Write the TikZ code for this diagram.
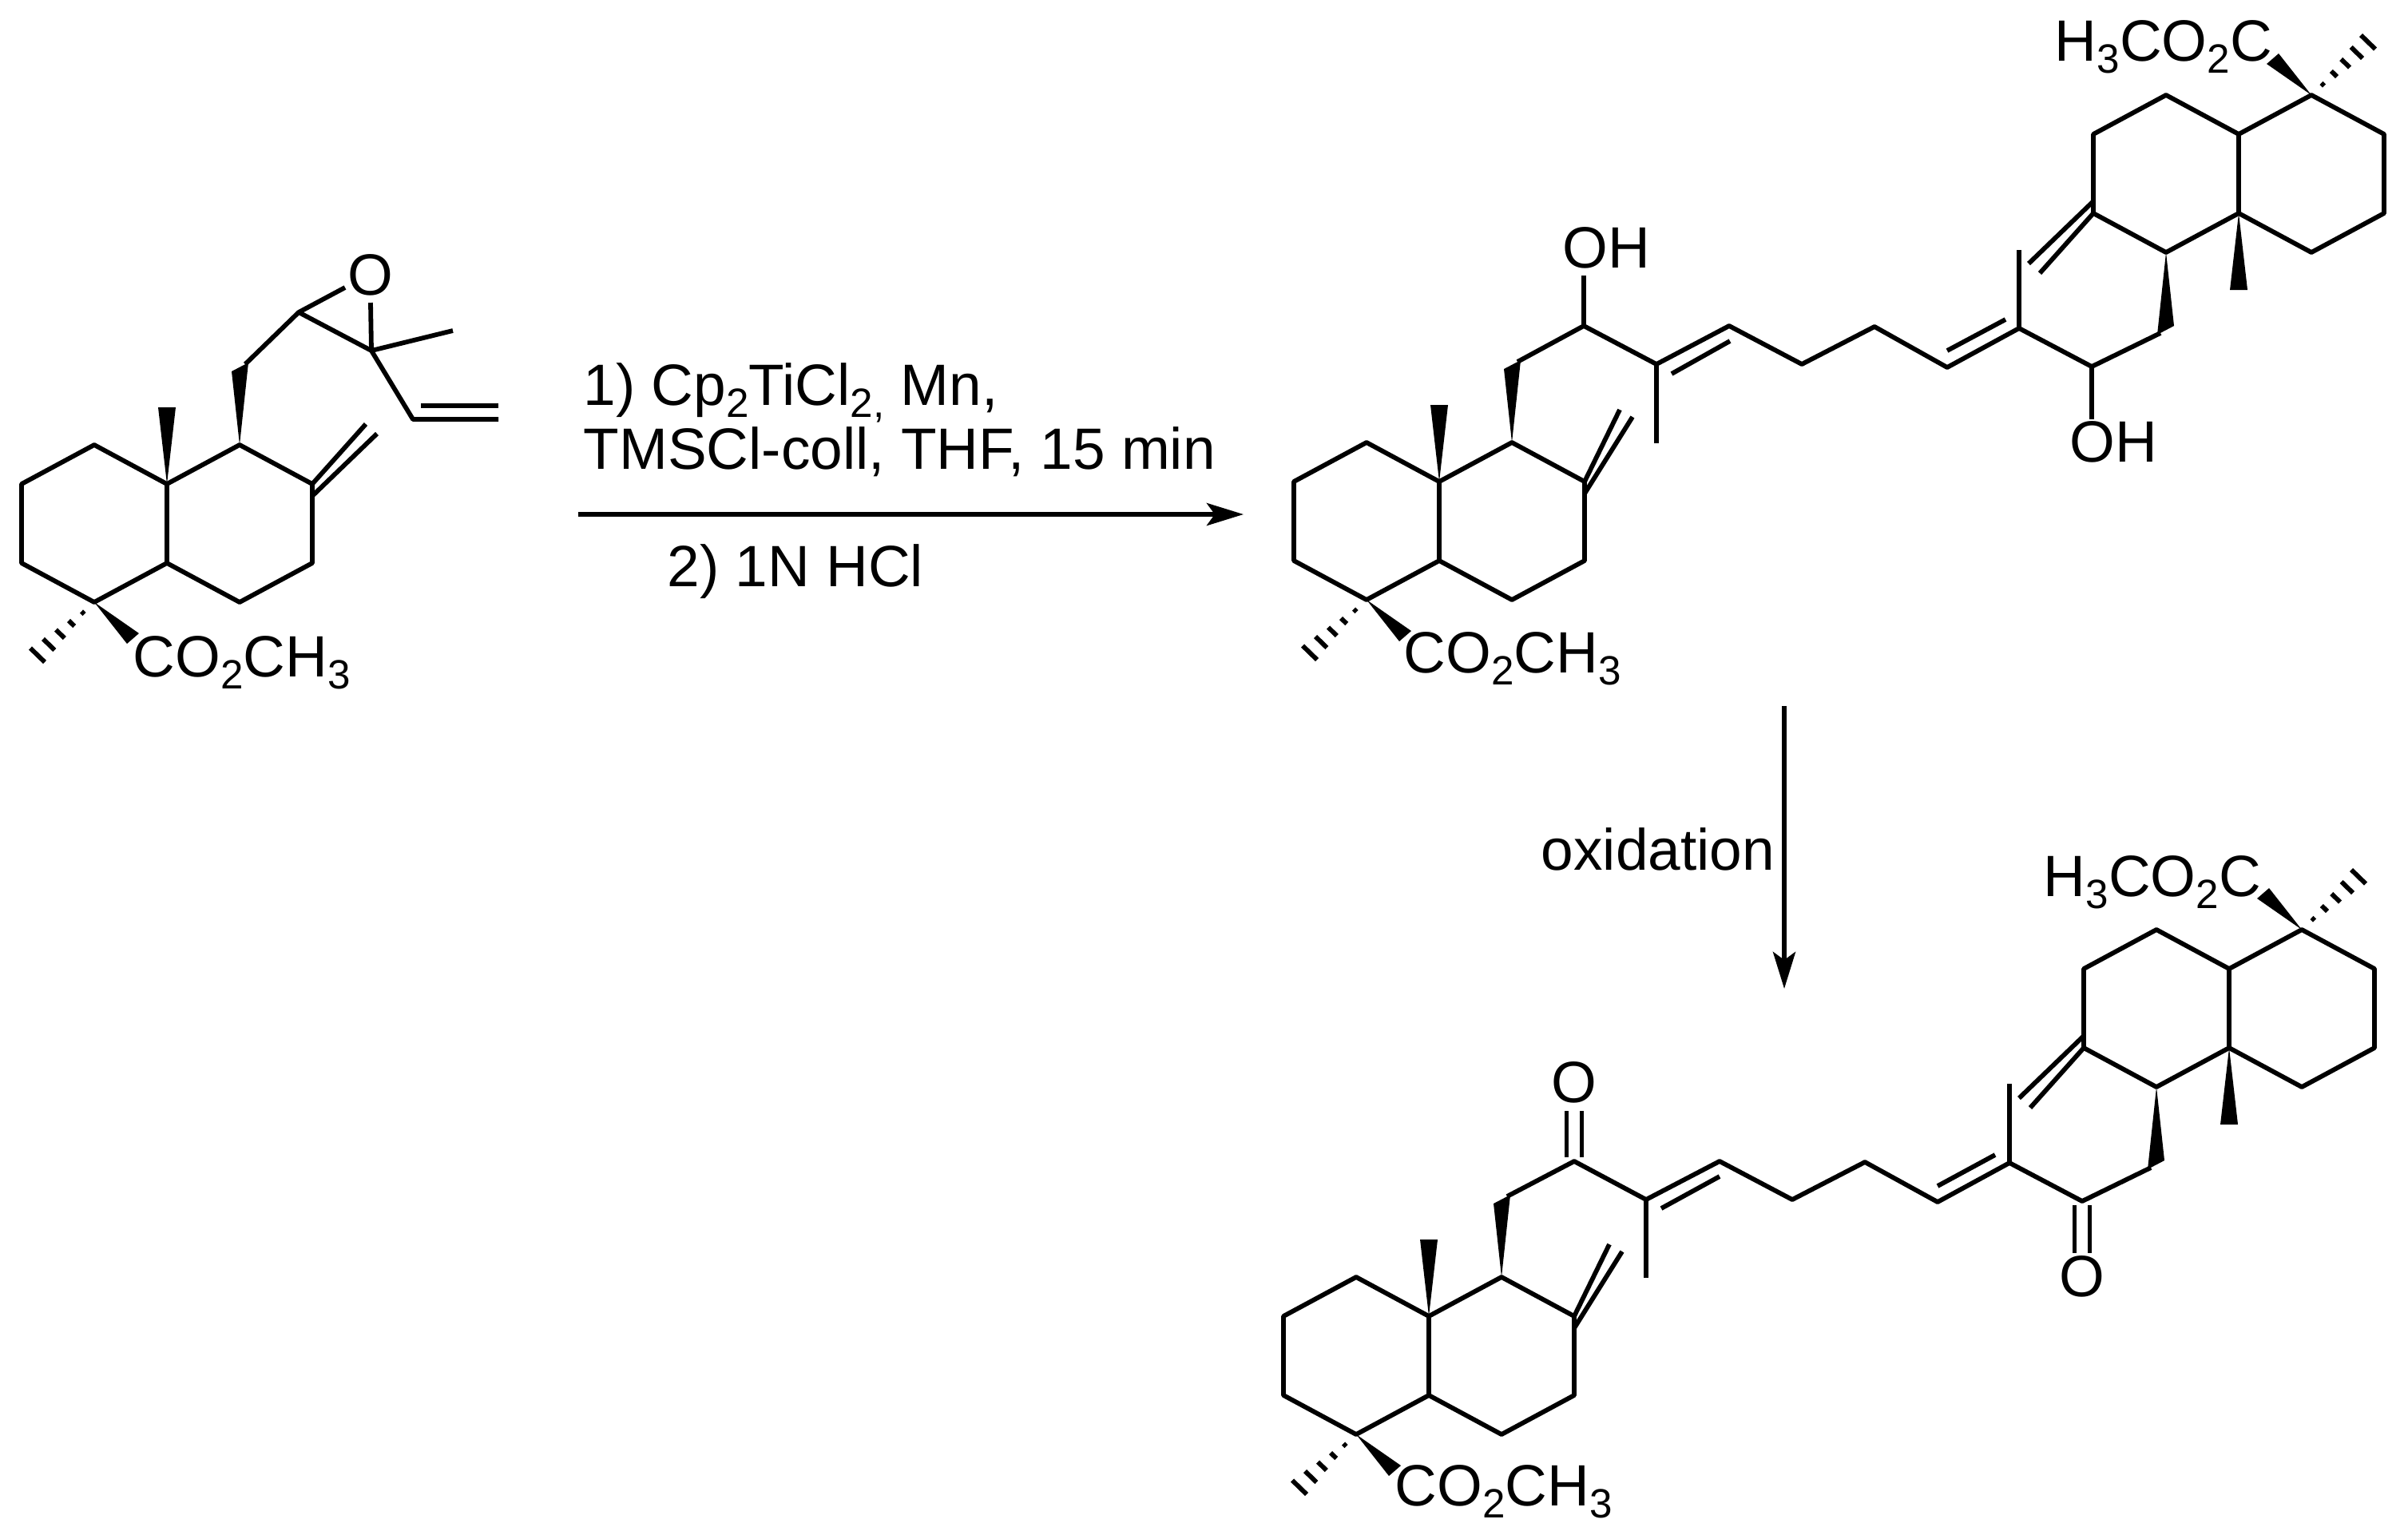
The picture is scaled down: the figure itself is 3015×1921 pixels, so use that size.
\documentclass[tikz,border=0pt]{standalone}
\usepackage{fontspec}
\setmainfont{Liberation Sans}
\usetikzlibrary{arrows.meta}
\newcommand{\chsub}[1]{\raisebox{-0.21em}{\fontsize{12.8}{14}\selectfont #1}}
\tikzset{
x=0.25pt, y=-0.25pt, % one unit is one pixel of the picture
bond/.style={line width=1.45pt, line join=round},
hashbond/.style={line width=1.45pt},
wedge/.style={fill=black},
rxn/.style={line width=1.5pt, -{Stealth[length=11.5pt,width=7pt,inset=2.5pt]}},
chem/.style={font=\fontsize{18.25}{22}\selectfont, inner sep=0pt, anchor=base west},
pics/decalin/.style n args={4}{code={
    \coordinate (-a) at (-182,0); \coordinate (-b) at (-91,-49);
    \coordinate (-c) at (0,0); \coordinate (-d) at (91,-49);
    \coordinate (-e) at (182,0); \coordinate (-f) at (182,99);
    \coordinate (-g) at (91,148); \coordinate (-h) at (0,99);
    \coordinate (-i) at (-91,148); \coordinate (-j) at (-182,99);
    \coordinate (-k) at (98,-150); % end of the wedge on the ring
    \draw[bond] (-a) -- (-b) -- (-c) -- (-d) -- (-e) -- (-f) -- (-g) -- (-h) -- (-i) -- (-j) -- cycle;
    \draw[bond] (-c) -- (-h);
    \draw[bond] (-e) -- (#1,#2);
    \draw[bond] (182,15) -- (#3,#4);
    \fill[wedge] (-c) -- (-11,-96) -- (11,-96) -- cycle;
    \fill[wedge] (-d) -- (81,-141) -- (102,-152) -- cycle;
    \fill[wedge] (-i) -- (-35,187) -- (-50,200) -- cycle;
    \foreach \n in {1,...,5}
        \draw[hashbond] (-91-16*\n,148+11.5*\n) -- (-91-12.4*\n,148+15*\n);
}},
}
\begin{document}
\begin{tikzpicture}
\useasboundingbox (0,0) rectangle (3015,1921);
% epoxide
\pic (ep) at (209,606) {decalin={249}{-75}{263}{-63}};
\coordinate (l) at (374,391);
\coordinate (m) at (465,439);
\coordinate (lo) at (432,360);
\coordinate (mo) at (464,379);
\coordinate (me) at (567,414);
\coordinate (v1) at (517,525);
\coordinate (v2) at (624,525);
\coordinate (v3) at (527,508);
\coordinate (v4) at (624,508);
\node[chem, anchor=base] (ox) at (464,369) {O};
\draw[bond] (ep-k) -- (l) -- (m) -- (v1) -- (v2);
\draw[bond] (l) -- (lo);
\draw[bond] (m) -- (mo);
\draw[bond] (m) -- (me);
\draw[bond] (v3) -- (v4);
\node[chem] (ester1) at (166,847) {CO\chsub{2}CH\chsub{3}};
% first arrow
\coordinate (r1) at (724,644);
\coordinate (r2) at (1557,644);
\draw[rxn] (r1) -- (r2);
\node[chem] (cond1) at (730,507) {1) Cp\chsub{2}TiCl\chsub{2,} Mn,};
\node[chem] (cond2) at (730,587) {TMSCl-coll, THF, 15 min};
\node[chem] (cond3) at (835,734) {2) 1N HCl};
% diol
\pic (up) at (1802,603) {decalin={226}{-90}{242}{-81}};
\pic[rotate=180] (ur) at (2803,267) {decalin={249}{-75}{263}{-63}};
\coordinate (n1) at (1983,408);
\coordinate (n2) at (2074,456);
\coordinate (n3) at (2165,408);
\coordinate (n4) at (2256,456);
\coordinate (n5) at (2347,409);
\coordinate (n6) at (2438,460);
\coordinate (n7) at (2528,411);
\coordinate (n8) at (2619,459);
\coordinate (oh1) at (1983,345);
\coordinate (oh2) at (2619,525);
\coordinate (me1) at (2074,555);
\coordinate (me2) at (2528,313);
\coordinate (d1) at (2093,468);
\coordinate (d2) at (2166,427);
\coordinate (d3) at (2438,439);
\coordinate (d4) at (2511,400);
\draw[bond] (up-k) -- (n1) -- (n2) -- (n3) -- (n4) -- (n5) -- (n6) -- (n7) -- (n8) -- (ur-k);
\draw[bond] (n1) -- (oh1);
\draw[bond] (n8) -- (oh2);
\draw[bond] (n2) -- (me1);
\draw[bond] (n7) -- (me2);
\draw[bond] (d1) -- (d2);
\draw[bond] (d3) -- (d4);
\node[chem] (hy1) at (1956,335) {OH};
\node[chem] (hy2) at (2591,578) {OH};
\node[chem] (ester2) at (1757,842) {CO\chsub{2}CH\chsub{3}};
\node[chem] (ester3) at (2572,76) {H\chsub{3}CO\chsub{2}C};
% second arrow
\coordinate (r3) at (2234,884);
\coordinate (r4) at (2234,1238);
\draw[rxn] (r3) -- (r4);
\node[chem] (oxid) at (1929,1089) {oxidation};
% diketone
\pic (lo) at (1789,1648) {decalin={226}{-90}{242}{-81}};
\pic[rotate=180] (lr) at (2791,1312) {decalin={249}{-75}{263}{-63}};
\coordinate (p1) at (1971,1454);
\coordinate (p2) at (2061,1502);
\coordinate (p3) at (2153,1454);
\coordinate (p4) at (2244,1502);
\coordinate (p5) at (2335,1455);
\coordinate (p6) at (2426,1505);
\coordinate (p7) at (2516,1456);
\coordinate (p8) at (2607,1504);
\coordinate (me3) at (2061,1600);
\coordinate (me4) at (2516,1357);
\coordinate (e1) at (2080,1513);
\coordinate (e2) at (2153,1473);
\coordinate (e3) at (2426,1485);
\coordinate (e4) at (2498,1446);
\coordinate (c1) at (1961.5,1449);
\coordinate (c2) at (1961.5,1391);
\coordinate (c3) at (1980.5,1449);
\coordinate (c4) at (1980.5,1391);
\coordinate (c5) at (2597.5,1509);
\coordinate (c6) at (2597.5,1569);
\coordinate (c7) at (2616.5,1509);
\coordinate (c8) at (2616.5,1569);
\draw[bond] (lo-k) -- (p1) -- (p2) -- (p3) -- (p4) -- (p5) -- (p6) -- (p7) -- (p8) -- (lr-k);
\draw[bond] (p2) -- (me3);
\draw[bond] (p7) -- (me4);
\draw[bond] (e1) -- (e2);
\draw[bond] (e3) -- (e4);
\draw[bond] (c1) -- (c2);
\draw[bond] (c3) -- (c4);
\draw[bond] (c5) -- (c6);
\draw[bond] (c7) -- (c8);
\node[chem, anchor=base] (ket1) at (1971,1380) {O};
\node[chem, anchor=base] (ket2) at (2607,1623) {O};
\node[chem] (ester4) at (1746,1885) {CO\chsub{2}CH\chsub{3}};
\node[chem] (ester5) at (2558,1122) {H\chsub{3}CO\chsub{2}C};
\end{tikzpicture}
\end{document}
